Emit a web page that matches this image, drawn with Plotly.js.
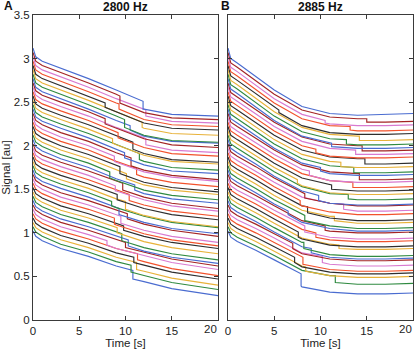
<!DOCTYPE html>
<html>
<head>
<meta charset="utf-8">
<script src="https://cdn.plot.ly/plotly-3.0.1.min.js"></script>
<style>html,body{margin:0;padding:0;background:#fff;}#chart{width:415px;height:349px;}</style>
</head>
<body>
<div id="chart"></div>
<script>
// ---- data ----
const panelTitles = ["2800 Hz", "2885 Hz"];
const panelLetters = ["A", "B"];
const yTicks = [0, 0.5, 1, 1.5, 2, 2.5, 3, 3.5];
const xTicks = [0, 5, 10, 15, 20];
const lineColors = ["#4a6cd0", "#2f8a40", "#e8b23a", "#2e2e2e", "#f2522c", "#d87ad0", "#a32424"];

// Panel A (2800 Hz): sample times and one row of values per trace (bottom trace first)
const timesA = [0, 0.3, 1, 3, 6, 9, 12, 15, 20];
const valuesA = [
[1.02,0.96,0.91,0.82,0.73,0.62,0.44,0.36,0.28],
[1.07,1.01,0.96,0.87,0.78,0.67,0.51,0.43,0.35],
[1.12,1.06,1.01,0.92,0.83,0.72,0.56,0.48,0.40],
[1.17,1.11,1.06,0.97,0.88,0.77,0.63,0.55,0.47],
[1.22,1.16,1.11,1.02,0.93,0.82,0.67,0.59,0.51],
[1.27,1.21,1.16,1.07,0.98,0.82,0.74,0.66,0.58],
[1.32,1.26,1.21,1.12,1.03,0.92,0.78,0.70,0.62],
[1.37,1.30,1.25,1.16,1.07,0.96,0.79,0.72,0.65],
[1.42,1.35,1.30,1.21,1.12,1.01,0.83,0.76,0.69],
[1.47,1.40,1.35,1.26,1.17,1.06,0.90,0.83,0.76],
[1.52,1.45,1.40,1.31,1.22,1.11,0.96,0.89,0.82],
[1.57,1.50,1.45,1.36,1.27,1.09,0.99,0.92,0.85],
[1.62,1.55,1.50,1.41,1.32,1.21,1.03,0.96,0.89],
[1.67,1.60,1.55,1.46,1.37,1.26,1.10,1.03,0.96],
[1.72,1.64,1.59,1.51,1.41,1.29,1.12,1.05,0.99],
[1.77,1.69,1.64,1.56,1.46,1.29,1.19,1.12,1.06],
[1.82,1.74,1.69,1.61,1.51,1.39,1.20,1.13,1.07],
[1.87,1.79,1.74,1.66,1.56,1.44,1.28,1.21,1.15],
[1.92,1.84,1.79,1.71,1.61,1.49,1.32,1.25,1.19],
[1.97,1.89,1.84,1.76,1.66,1.48,1.38,1.31,1.25],
[2.02,1.94,1.89,1.81,1.71,1.59,1.41,1.34,1.28],
[2.07,1.99,1.94,1.85,1.75,1.62,1.45,1.39,1.34],
[2.12,2.04,1.99,1.90,1.80,1.60,1.49,1.43,1.38],
[2.17,2.09,2.04,1.95,1.85,1.72,1.55,1.49,1.44],
[2.22,2.14,2.09,2.00,1.90,1.77,1.58,1.52,1.47],
[2.27,2.19,2.14,2.05,1.95,1.82,1.64,1.58,1.53],
[2.32,2.24,2.19,2.10,2.00,1.81,1.70,1.64,1.59],
[2.37,2.29,2.24,2.15,2.05,1.92,1.72,1.66,1.61],
[2.42,2.33,2.28,2.20,2.09,1.96,1.78,1.71,1.68],
[2.47,2.38,2.33,2.25,2.14,2.01,1.82,1.75,1.72],
[2.52,2.43,2.38,2.30,2.19,2.01,1.89,1.82,1.79],
[2.57,2.48,2.43,2.35,2.24,2.11,1.91,1.84,1.81],
[2.62,2.53,2.48,2.40,2.29,2.16,1.98,1.91,1.88],
[2.67,2.58,2.53,2.45,2.34,2.21,2.09,1.95,1.92],
[2.72,2.63,2.58,2.50,2.39,2.20,2.08,2.01,1.98],
[2.77,2.67,2.62,2.54,2.42,2.29,2.11,2.05,2.03],
[2.82,2.72,2.67,2.59,2.47,2.34,2.12,2.06,2.04],
[2.87,2.77,2.72,2.64,2.52,2.39,2.20,2.14,2.12],
[2.92,2.82,2.77,2.69,2.57,2.39,2.26,2.20,2.18],
[2.97,2.87,2.82,2.74,2.62,2.49,2.30,2.24,2.22],
[3.02,2.92,2.87,2.79,2.67,2.54,2.41,2.28,2.26],
[3.07,2.97,2.92,2.84,2.72,2.59,2.38,2.32,2.30],
[3.12,3.02,2.97,2.89,2.77,2.64,2.42,2.36,2.34]
];
// abrupt jumps: [time, level before, level after]
const stepsA = [
[10.8,0.57,0.47],[10.6,0.63,0.55],[11.2,0.66,0.58],[10.9,0.72,0.66],[11.3,0.76,0.69],
[8.0,0.91,0.86],[10.0,0.89,0.83],[10.3,0.92,0.85],[9.6,0.99,0.91],[9.1,1.06,1.00],
[9.8,1.08,1.03],[8.8,1.17,1.10],[9.5,1.19,1.11],[10.2,1.22,1.16],[9.3,1.28,1.21],
[8.5,1.36,1.31],[10.0,1.36,1.27],[9.1,1.44,1.38],[10.4,1.44,1.37],[8.9,1.54,1.48],
[9.7,1.57,1.49],[11.0,1.55,1.49],[8.3,1.70,1.63],[10.1,1.68,1.62],[9.4,1.76,1.68],
[11.2,1.74,1.67],[8.8,1.88,1.82],[10.6,1.86,1.77],[9.9,1.92,1.86],[11.5,1.91,1.84],
[8.6,2.08,2.03],[10.8,2.04,1.96],[9.2,2.15,2.09],[12.2,2.08,2.01],[7.8,2.31,2.25],
[10.5,2.23,2.18],[9.9,2.30,2.21],[11.8,2.27,2.21],[7.8,2.49,2.44],[9.3,2.48,2.42],
[12.2,2.41,2.34],[9.4,2.57,2.49],[11.9,2.51,2.42]
];

// Panel B (2885 Hz)
const timesB = [0, 0.3, 1, 3, 5, 8, 11, 14, 17, 20];
const valuesB = [
[1.02,0.95,0.90,0.80,0.69,0.38,0.32,0.30,0.30,0.31],
[1.07,1.00,0.95,0.85,0.74,0.57,0.51,0.41,0.41,0.42],
[1.12,1.05,1.00,0.90,0.79,0.62,0.51,0.49,0.49,0.50],
[1.17,1.10,1.05,0.95,0.84,0.61,0.55,0.53,0.53,0.54],
[1.22,1.15,1.10,1.00,0.89,0.72,0.58,0.56,0.56,0.57],
[1.27,1.20,1.15,1.05,0.94,0.77,0.64,0.62,0.62,0.63],
[1.32,1.25,1.20,1.10,0.99,0.76,0.70,0.68,0.68,0.69],
[1.37,1.29,1.24,1.13,1.01,0.84,0.72,0.70,0.70,0.71],
[1.42,1.34,1.29,1.18,1.06,0.89,0.75,0.73,0.73,0.74],
[1.47,1.39,1.34,1.23,1.11,0.94,0.87,0.81,0.81,0.82],
[1.52,1.44,1.39,1.28,1.16,0.93,0.86,0.84,0.84,0.85],
[1.57,1.49,1.44,1.33,1.21,1.04,0.92,0.90,0.90,0.91],
[1.62,1.54,1.49,1.38,1.26,1.09,0.95,0.93,0.93,0.94],
[1.67,1.59,1.54,1.43,1.31,1.14,1.02,1.00,1.00,1.01],
[1.72,1.63,1.58,1.46,1.33,1.12,1.05,1.02,1.02,1.03],
[1.77,1.68,1.63,1.51,1.38,1.21,1.08,1.05,1.05,1.06],
[1.82,1.73,1.68,1.56,1.43,1.26,1.19,1.11,1.11,1.12],
[1.87,1.78,1.73,1.61,1.48,1.31,1.17,1.14,1.14,1.15],
[1.92,1.83,1.78,1.66,1.53,1.31,1.24,1.21,1.21,1.22],
[1.97,1.88,1.83,1.71,1.58,1.41,1.34,1.25,1.25,1.26],
[2.02,1.93,1.88,1.76,1.63,1.46,1.34,1.31,1.31,1.32],
[2.07,1.97,1.92,1.79,1.65,1.48,1.34,1.32,1.32,1.33],
[2.12,2.02,1.97,1.84,1.70,1.53,1.45,1.38,1.38,1.39],
[2.17,2.07,2.02,1.89,1.75,1.54,1.46,1.44,1.44,1.45],
[2.22,2.12,2.07,1.94,1.80,1.63,1.55,1.48,1.48,1.49],
[2.27,2.17,2.12,1.99,1.85,1.68,1.60,1.52,1.52,1.53],
[2.32,2.22,2.17,2.04,1.90,1.73,1.60,1.58,1.58,1.59],
[2.37,2.27,2.22,2.09,1.95,1.78,1.70,1.68,1.61,1.62],
[2.42,2.31,2.26,2.12,1.97,1.80,1.68,1.66,1.66,1.67],
[2.47,2.36,2.31,2.17,2.02,1.85,1.77,1.69,1.69,1.70],
[2.52,2.41,2.36,2.22,2.07,1.90,1.82,1.75,1.75,1.76],
[2.57,2.46,2.41,2.27,2.12,1.95,1.87,1.85,1.79,1.80],
[2.62,2.51,2.46,2.32,2.17,2.00,1.88,1.86,1.86,1.87],
[2.67,2.56,2.51,2.37,2.22,2.05,1.97,1.90,1.90,1.91],
[2.72,2.61,2.56,2.42,2.27,2.10,2.02,2.00,1.94,1.95],
[2.77,2.65,2.60,2.45,2.29,2.11,2.03,1.97,1.97,1.98],
[2.82,2.70,2.65,2.50,2.34,2.16,2.08,2.01,2.01,2.02],
[2.87,2.75,2.70,2.55,2.39,2.21,2.13,2.11,2.06,2.07],
[2.92,2.80,2.75,2.60,2.44,2.23,2.15,2.13,2.13,2.14],
[2.97,2.85,2.80,2.65,2.49,2.31,2.23,2.17,2.17,2.18],
[3.02,2.90,2.85,2.70,2.54,2.36,2.25,2.23,2.23,2.24],
[3.07,2.95,2.90,2.75,2.59,2.41,2.33,2.31,2.27,2.28],
[3.12,3.00,2.95,2.80,2.64,2.45,2.37,2.35,2.36,2.37]
];
const stepsB = [
[7.9,0.53,0.39],[11.6,0.51,0.43],[8.4,0.61,0.56],[7.2,0.72,0.66],[8.1,0.72,0.64],
[10.2,0.73,0.66],[7.0,0.88,0.82],[9.0,0.82,0.77],[8.2,0.89,0.82],[12.0,0.86,0.82],
[7.6,1.01,0.95],[9.5,1.00,0.95],[8.3,1.08,1.01],[10.5,1.08,1.03],[6.5,1.25,1.21],
[8.3,1.20,1.14],[11.5,1.19,1.14],[8.6,1.30,1.23],[7.8,1.37,1.32],[12.5,1.33,1.27],
[8.3,1.45,1.40],[9.8,1.43,1.37],[13.0,1.44,1.39],[7.5,1.61,1.57],[11.2,1.55,1.50],
[13.5,1.58,1.52],[8.8,1.71,1.66],[14.2,1.68,1.61],[10.0,1.75,1.71],[13.6,1.75,1.69],
[12.2,1.81,1.76],[14.8,1.85,1.79],[9.5,1.96,1.92],[13.8,1.95,1.90],[14.5,2.00,1.94],
[11.2,2.03,1.99],[12.8,2.07,2.02],[14.2,2.11,2.06],[5.5,2.41,2.38],[13.2,2.22,2.18],
[10.5,2.29,2.26],[15.0,2.31,2.27],null
];

// ---- build traces ----
function buildTraces(times, values, steps, xa, ya) {
  const out = [];
  values.forEach((row, i) => {
    const x = [], y = [];
    const st = steps[i];
    let inserted = !st;
    for (let k = 0; k < times.length; k++) {
      if (!inserted && times[k] > st[0]) {
        x.push(st[0], st[0]); y.push(st[1], st[2]);
        inserted = true;
      }
      x.push(times[k]); y.push(row[k]);
    }
    out.push({x, y, type: 'scatter', mode: 'lines', xaxis: xa, yaxis: ya,
      line: {color: lineColors[i % lineColors.length], width: 1.15}, hoverinfo: 'skip', showlegend: false});
  });
  return out;
}
const data = buildTraces(timesA, valuesA, stepsA, 'x', 'y')
  .concat(buildTraces(timesB, valuesB, stepsB, 'x2', 'y2'));

const fontFam = '"Liberation Sans", Arial, sans-serif';
const tickFont = {family: fontFam, size: 11.5, color: '#222'};
const axCommon = {
  showline: true, linecolor: '#3a3a3a', linewidth: 1, mirror: 'ticks',
  ticks: 'inside', ticklen: 4, tickcolor: '#3a3a3a', tickwidth: 1,
  showgrid: false, zeroline: false, tickfont: tickFont
};
// the last x label ("20") is drawn right-aligned to the axis end, as in the reference
const xTickText = xTicks.map((v, i) => i === xTicks.length - 1 ? '' : String(v));
const lastX = String(xTicks[xTicks.length - 1]);
const titleFont = {family: fontFam, size: 11.5, color: '#222'};
const layout = {
  width: 415, height: 349,
  margin: {l: 33, r: 2, t: 15, b: 29},
  paper_bgcolor: '#fff', plot_bgcolor: '#fff',
  xaxis: Object.assign({}, axCommon, {domain: [0, 0.4868], range: [0, 20], tickvals: xTicks, ticktext: xTickText,
    ticklabelstandoff: 0, title: {text: 'Time [s]', font: titleFont, standoff: 0}}),
  yaxis: Object.assign({}, axCommon, {domain: [0, 1], range: [0, 3.5], tickvals: yTicks, ticktext: yTicks.map(String),
    title: {text: 'Signal [au]', font: titleFont, standoff: 6}}),
  xaxis2: Object.assign({}, axCommon, {domain: [0.5132, 1], range: [0, 20], anchor: 'y2', tickvals: xTicks, ticktext: xTickText,
    ticklabelstandoff: 0, title: {text: 'Time [s]', font: titleFont, standoff: 0}}),
  yaxis2: Object.assign({}, axCommon, {domain: [0, 1], range: [0, 3.5], anchor: 'x2', tickvals: yTicks, showticklabels: false}),
  annotations: [
    {text: '<b>' + panelTitles[0] + '</b>', xref: 'x domain', yref: 'paper', x: 0.5, y: 1, xanchor: 'center', yanchor: 'bottom', showarrow: false, font: {family: fontFam, size: 12, color: '#111'}, yshift: -1},
    {text: '<b>' + panelTitles[1] + '</b>', xref: 'x2 domain', yref: 'paper', x: 0.5, y: 1, xanchor: 'center', yanchor: 'bottom', showarrow: false, font: {family: fontFam, size: 12, color: '#111'}, yshift: -1},
    {text: '<b>' + panelLetters[0] + '</b>', xref: 'paper', yref: 'paper', x: -0.082, y: 1.03, xanchor: 'left', yanchor: 'middle', showarrow: false, font: {family: fontFam, size: 12, color: '#111'}},
    {text: '<b>' + panelLetters[1] + '</b>', xref: 'paper', yref: 'paper', x: 0.49, y: 1.03, xanchor: 'left', yanchor: 'middle', showarrow: false, font: {family: fontFam, size: 12, color: '#111'}},
    {text: lastX, xref: 'x domain', yref: 'paper', x: 1, y: 0, xanchor: 'right', yanchor: 'top', xshift: 1, yshift: -1, showarrow: false, font: tickFont},
    {text: lastX, xref: 'x2 domain', yref: 'paper', x: 1, y: 0, xanchor: 'right', yanchor: 'top', xshift: 1, yshift: -1, showarrow: false, font: tickFont}
  ]
};
Plotly.newPlot('chart', data, layout, {displayModeBar: false, staticPlot: true});
</script>
</body>
</html>
